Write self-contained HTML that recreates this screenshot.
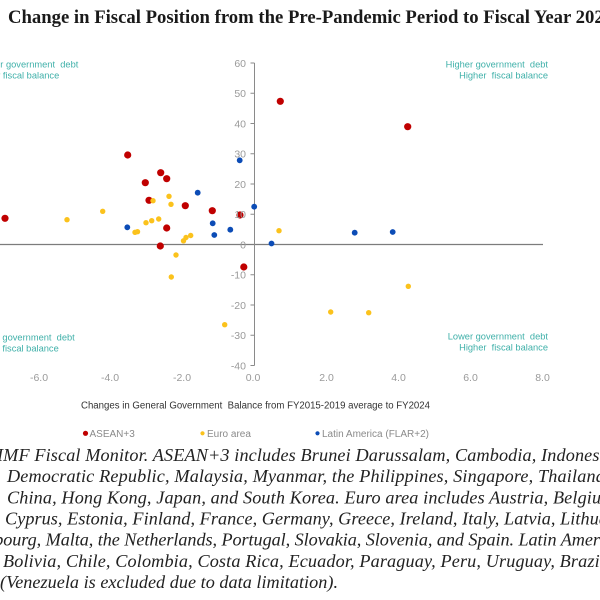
<!DOCTYPE html>
<html>
<head>
<meta charset="utf-8">
<style>
  html, body { margin: 0; padding: 0; background: #ffffff; }
  body { width: 600px; height: 600px; overflow: hidden; position: relative; }
  svg { position: absolute; left: 0; top: 0; }
  .tick { font-family: "Liberation Sans", Arial, sans-serif; font-size: 10.5px; fill: #9a9a9a; }
  .quad { font-family: "Liberation Sans", Arial, sans-serif; font-size: 9.3px; fill: #3fb0a9; }
  .leg { font-family: "Liberation Sans", Arial, sans-serif; font-size: 10px; fill: #8a8a8a; }
  .axt { font-family: "Liberation Sans", Arial, sans-serif; font-size: 10px; fill: #333333; }
  .title { font-family: "Liberation Serif", "Times New Roman", serif; font-size: 18.7px; font-weight: bold; fill: #1a1a1a; }
  .cap { font-family: "Liberation Serif", "Times New Roman", serif; font-size: 18.2px; font-style: italic; fill: #222222; }
</style>
</head>
<body>
<svg width="600" height="600" viewBox="0 0 600 600" xmlns="http://www.w3.org/2000/svg">
  <!-- Title -->
  <text class="title" x="8" y="23">Change in Fiscal Position from the Pre-Pandemic Period to Fiscal Year 2024</text>

  <!-- Quadrant labels -->
  <text class="quad" x="548" y="67.5" text-anchor="end">Higher government&#160; debt</text>
  <text class="quad" x="548" y="78.5" text-anchor="end">Higher&#160; fiscal balance</text>
  <text class="quad" x="-24" y="67.5">Higher government&#160; debt</text>
  <text class="quad" x="-25" y="78.5">Lower fiscal balance</text>
  <text class="quad" x="-25.5" y="340.5">Lower government&#160; debt</text>
  <text class="quad" x="-25.5" y="351.5">Lower fiscal balance</text>
  <text class="quad" x="548" y="339.5" text-anchor="end">Lower government&#160; debt</text>
  <text class="quad" x="548" y="350.5" text-anchor="end">Higher&#160; fiscal balance</text>

  <!-- Zero line -->
  <line x1="0" y1="244.5" x2="543" y2="244.5" stroke="#7c7c7c" stroke-width="1.3"/>
  <!-- Y axis -->
  <line x1="254.5" y1="63" x2="254.5" y2="365.5" stroke="#8a8a8a" stroke-width="1"/>
  <g stroke="#8a8a8a" stroke-width="1">
    <line x1="250.5" y1="63" x2="254.5" y2="63"/>
    <line x1="250.5" y1="93.25" x2="254.5" y2="93.25"/>
    <line x1="250.5" y1="123.5" x2="254.5" y2="123.5"/>
    <line x1="250.5" y1="153.75" x2="254.5" y2="153.75"/>
    <line x1="250.5" y1="184" x2="254.5" y2="184"/>
    <line x1="250.5" y1="214.25" x2="254.5" y2="214.25"/>
    <line x1="250.5" y1="274.75" x2="254.5" y2="274.75"/>
    <line x1="250.5" y1="305" x2="254.5" y2="305"/>
    <line x1="250.5" y1="335.25" x2="254.5" y2="335.25"/>
    <line x1="250.5" y1="365.5" x2="254.5" y2="365.5"/>
  </g>

  <!-- Data: ASEAN+3 (red) -->
  <g fill="#c00000">
    <circle cx="5" cy="218.3" r="3.6"/>
    <circle cx="127.7" cy="155" r="3.6"/>
    <circle cx="145.3" cy="182.7" r="3.6"/>
    <circle cx="160.7" cy="172.7" r="3.6"/>
    <circle cx="166.7" cy="178.7" r="3.6"/>
    <circle cx="149" cy="200.3" r="3.6"/>
    <circle cx="185.3" cy="205.7" r="3.6"/>
    <circle cx="166.7" cy="228" r="3.6"/>
    <circle cx="160.3" cy="246" r="3.6"/>
    <circle cx="212.3" cy="210.7" r="3.6"/>
    <circle cx="240" cy="215" r="3.6"/>
    <circle cx="243.8" cy="267" r="3.6"/>
    <circle cx="280.3" cy="101.3" r="3.6"/>
    <circle cx="407.7" cy="126.7" r="3.6"/>
  </g>
  <!-- Data: Euro area (yellow) -->
  <g fill="#fbc21c">
    <circle cx="67" cy="219.7" r="2.7"/>
    <circle cx="102.7" cy="211.3" r="2.7"/>
    <circle cx="135" cy="232.3" r="2.7"/>
    <circle cx="137.5" cy="231.7" r="2.7"/>
    <circle cx="146" cy="222.7" r="2.7"/>
    <circle cx="151.7" cy="220.7" r="2.7"/>
    <circle cx="158.7" cy="219" r="2.7"/>
    <circle cx="153" cy="200.7" r="2.7"/>
    <circle cx="169" cy="196.3" r="2.7"/>
    <circle cx="171" cy="204.3" r="2.7"/>
    <circle cx="183.5" cy="240.8" r="2.7"/>
    <circle cx="186" cy="237.5" r="2.7"/>
    <circle cx="190.7" cy="235.5" r="2.7"/>
    <circle cx="176" cy="255" r="2.7"/>
    <circle cx="279" cy="230.7" r="2.7"/>
    <circle cx="171.3" cy="277" r="2.7"/>
    <circle cx="224.7" cy="324.7" r="2.7"/>
    <circle cx="330.7" cy="312" r="2.7"/>
    <circle cx="368.7" cy="312.7" r="2.7"/>
    <circle cx="408.3" cy="286.3" r="2.7"/>
  </g>
  <!-- Data: Latin America (blue) -->
  <g fill="#0c4cb6">
    <circle cx="127.3" cy="227.3" r="2.9"/>
    <circle cx="197.7" cy="192.7" r="2.9"/>
    <circle cx="212.7" cy="223.3" r="2.9"/>
    <circle cx="214.3" cy="235" r="2.9"/>
    <circle cx="230.3" cy="229.7" r="2.9"/>
    <circle cx="239.7" cy="160.3" r="2.9"/>
    <circle cx="254.2" cy="206.7" r="2.9"/>
    <circle cx="271.5" cy="243.5" r="2.9"/>
    <circle cx="354.7" cy="232.7" r="2.9"/>
    <circle cx="392.7" cy="232" r="2.9"/>
  </g>

  <!-- Y tick labels -->
  <g class="tick" text-anchor="end">
    <text x="246" y="66.8">60</text>
    <text x="246" y="97">50</text>
    <text x="246" y="127.3">40</text>
    <text x="246" y="157.5">30</text>
    <text x="246" y="187.8">20</text>
    <text x="246" y="218">10</text>
    <text x="246" y="248.3">0</text>
    <text x="246" y="278.5">-10</text>
    <text x="246" y="308.8">-20</text>
    <text x="246" y="339">-30</text>
    <text x="246" y="369.3">-40</text>
  </g>
  <!-- X tick labels -->
  <g class="tick" text-anchor="middle">
    <text x="39" y="381">-6.0</text>
    <text x="110" y="381">-4.0</text>
    <text x="182" y="381">-2.0</text>
    <text x="253" y="381">0.0</text>
    <text x="326.5" y="381">2.0</text>
    <text x="398.5" y="381">4.0</text>
    <text x="470.5" y="381">6.0</text>
    <text x="542.5" y="381">8.0</text>
  </g>

  <!-- X axis title -->
  <text class="axt" x="81" y="408.5" textLength="349" lengthAdjust="spacingAndGlyphs">Changes in General Government&#160; Balance from FY2015-2019 average to FY2024</text>

  <!-- Legend -->
  <circle cx="85.5" cy="433.3" r="2.6" fill="#c00000"/>
  <text class="leg" x="89.5" y="436.8">ASEAN+3</text>
  <circle cx="202.5" cy="433.3" r="2.1" fill="#fbc21c"/>
  <text class="leg" x="207" y="436.8">Euro area</text>
  <circle cx="317.5" cy="433.3" r="2.1" fill="#0c4cb6"/>
  <text class="leg" x="322" y="436.8">Latin America (FLAR+2)</text>

  <!-- Caption -->
  <text class="cap" x="-3" y="461" textLength="621.5" lengthAdjust="spacing">IMF Fiscal Monitor. ASEAN+3 includes Brunei Darussalam, Cambodia, Indonesia,</text>
  <text class="cap" x="7" y="482.2" textLength="602.5" lengthAdjust="spacing">Democratic Republic, Malaysia, Myanmar, the Philippines, Singapore, Thailand,</text>
  <text class="cap" x="7" y="503.3" textLength="612" lengthAdjust="spacing">China, Hong Kong, Japan, and South Korea. Euro area includes Austria, Belgium,</text>
  <text class="cap" x="5" y="524.5" textLength="631" lengthAdjust="spacing">Cyprus, Estonia, Finland, France, Germany, Greece, Ireland, Italy, Latvia, Lithuania,</text>
  <text class="cap" x="-54" y="545.7" textLength="676" lengthAdjust="spacing">Luxembourg, Malta, the Netherlands, Portugal, Slovakia, Slovenia, and Spain. Latin America</text>
  <text class="cap" x="3" y="566.8" textLength="606.5" lengthAdjust="spacing">Bolivia, Chile, Colombia, Costa Rica, Ecuador, Paraguay, Peru, Uruguay, Brazil,</text>
  <text class="cap" x="0" y="588" textLength="338" lengthAdjust="spacing">(Venezuela is excluded due to data limitation).</text>
</svg>
</body>
</html>
